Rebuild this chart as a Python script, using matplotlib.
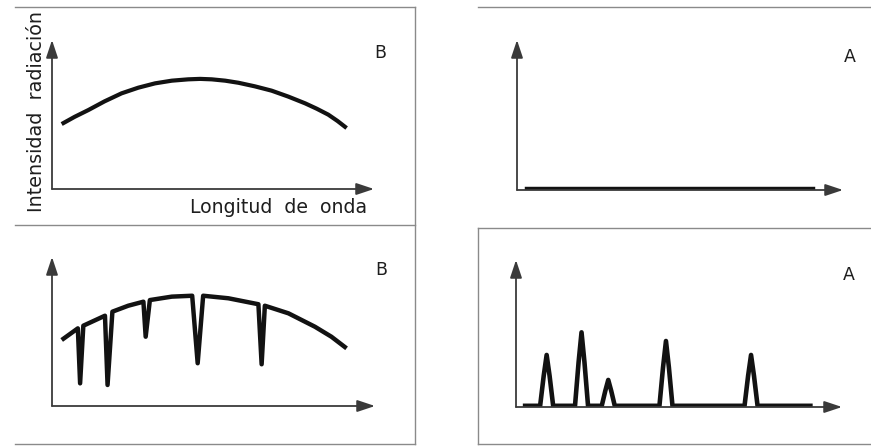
import matplotlib
matplotlib.use("Agg")
import matplotlib.pyplot as plt
from matplotlib.lines import Line2D

# continuous spectrum (panel B, top)
cont_x = [3.0, 7.0, 11.3, 16.3, 21.6, 26.8, 32.0, 37.2, 42.3, 46.0, 49.6,
          53.8, 57.9, 63.0, 68.2, 73.4, 78.6, 82.2, 85.8, 88.7, 91.5]
cont_y = [43.6, 48.4, 53.0, 58.8, 64.2, 68.0, 70.9, 72.7, 73.6, 73.9, 73.6,
          72.7, 71.3, 68.9, 66.0, 62.0, 57.5, 53.9, 49.9, 45.6, 40.9]

# absorption spectrum (panel B, bottom)
abs_x = [3.0, 8.0, 8.7, 9.7, 16.4, 17.2, 18.7, 23.6, 28.3, 29.0, 30.3,
         37.1, 43.4, 45.1, 46.8, 54.6, 63.9, 64.9, 65.9, 73.2, 81.4, 86.5, 91.2]
abs_y = [44.3, 52.1, 15.2, 53.9, 60.6, 14.1, 63.3, 67.3, 70.0, 46.5, 71.1,
         73.4, 74.0, 28.7, 74.0, 72.3, 68.3, 28.0, 67.3, 62.2, 53.2, 46.5, 38.7]

# emission spectrum (panel A, bottom): line positions and heights
peak_x = [9.4, 20.1, 28.3, 46.0, 72.1]
peak_h = [35.4, 50.8, 18.4, 44.9, 35.4]
base_start, base_end = 2.8, 90.3

INK = "#121212"
AXC = "#3a3a3a"
TXT = "#1e1e1e"
FRAME = "#8a8a8a"
W, H = 871, 447

fig = plt.figure(figsize=(W / 100, H / 100), dpi=100)
fig.patch.set_facecolor("white")


def make_axes(x0, x1, ybot, ytop):
    # pixel box -> figure fraction
    ax = fig.add_axes([x0 / W, 1 - ybot / H, (x1 - x0) / W, (ybot - ytop) / H])
    ax.set_xlim(0, 100)
    ax.set_ylim(0, 100)
    ax.axis("off")
    kw = dict(arrowstyle="-|>,head_length=0.9,head_width=0.3", lw=1.3,
              color=AXC, shrinkA=0, shrinkB=0, mutation_scale=12)
    ax.annotate("", xy=(0, 100), xytext=(0, 0), arrowprops=kw, annotation_clip=False)
    ax.annotate("", xy=(100, 0), xytext=(0, 0), arrowprops=kw, annotation_clip=False)
    return ax


def frame_line(x0, y0, x1, y1):
    fig.add_artist(Line2D([x0 / W, x1 / W], [1 - y0 / H, 1 - y1 / H],
                          color=FRAME, lw=1.0, transform=fig.transFigure))


# panel frames
frame_line(15, 7, 415, 7)
frame_line(15, 225, 415, 225)
frame_line(15, 444, 415, 444)
frame_line(415, 7, 415, 444)
frame_line(478, 7, 871, 7)
frame_line(478, 228, 871, 228)
frame_line(478, 444, 871, 444)
frame_line(478, 228, 478, 444)

# top left: continuous spectrum
ax1 = make_axes(52, 374, 189, 40)
ax1.plot(cont_x, cont_y, color=INK, lw=3.0, solid_capstyle="butt",
         solid_joinstyle="round")
ax1.text(102, 97, "B", fontsize=12.5, color=TXT, ha="center", va="top")

# bottom left: absorption spectrum
ax3 = make_axes(52, 375, 406, 257)
ax3.plot(abs_x, abs_y, color=INK, lw=3.2, solid_joinstyle="round",
         solid_capstyle="butt")
ax3.text(102, 97, "B", fontsize=12.5, color=TXT, ha="center", va="top")

# top right: nothing emitted
ax2 = make_axes(517, 843, 190, 40)
ax2.plot([base_start + 0.3, base_end + 0.5], [0.6, 0.6], color=INK, lw=3.2)
ax2.text(102, 95, "A", fontsize=12.5, color=TXT, ha="center", va="top")

# bottom right: emission lines
ax4 = make_axes(516, 842, 407, 260)
ex, ey = [base_start], [0.8]
for c, h in zip(peak_x, peak_h):
    ex += [c - 2.0, c - 0.9, c, c + 0.9, c + 2.0]
    ey += [0.8, h * 0.6, h, h * 0.6, 0.8]
ex.append(base_end)
ey.append(0.8)
ax4.plot(ex, ey, color=INK, lw=3.3, solid_joinstyle="round")
ax4.text(102, 96, "A", fontsize=12.5, color=TXT, ha="center", va="top")

# axis titles on the first panel
fig.text(190 / W, 1 - 213 / H, "Longitud  de  onda", fontsize=13.6, color=TXT,
         ha="left", va="baseline")
fig.text(36 / W, 1 - 112 / H, "Intensidad  radiación", fontsize=13.8, color=TXT,
         rotation=90, ha="center", va="center")

fig.savefig("out.png", dpi=100, facecolor="white")
